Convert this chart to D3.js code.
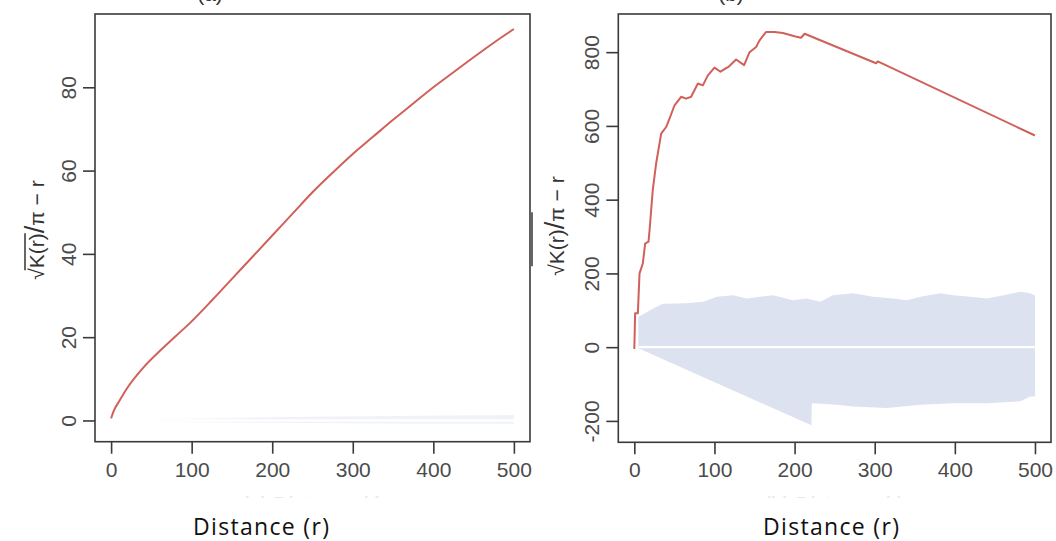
<!DOCTYPE html>
<html>
<head>
<meta charset="utf-8">
<script src="https://cdn.jsdelivr.net/npm/d3@7"></script>
<style>
    body { margin: 0; background: #fff; }
    svg { display: block; }
    .axisText { font-family: "Liberation Sans", Arial, sans-serif; font-size: 21px; fill: #4b4b4b; }
    .yTitle { font-family: "Liberation Sans", Arial, sans-serif; font-size: 21px; fill: #333; }
    .xTitle { font-family: "Open Sans", sans-serif; font-size: 23px; fill: #111; }
</style>
</head>
<body>
<div id="chart"></div>
<script>
// tick labels
const xTicks = [0, 100, 200, 300, 400, 500]
const leftYTicks = [0, 20, 40, 60, 80]
const rightYTicks = [-200, 0, 200, 400, 600, 800]

// (a) observed curve
const leftDistance = [0, 3, 10, 20, 40, 60, 80, 100, 125, 150, 175, 200, 225, 250, 275, 300, 325, 350, 375, 400, 425, 450, 475, 500]
const leftValue = [0.5, 2.2, 4.6, 7.8, 12.7, 16.6, 20.2, 23.8, 28.8, 34, 39.2, 44.4, 49.6, 54.8, 59.5, 64, 68.1, 72.2, 76.1, 80, 83.6, 87.2, 90.7, 94]

// (a) envelope
const leftBandDistance = [60, 150, 250, 350, 500]
const leftBandUpper = [0.3, 0.6, 0.9, 1.1, 1.3]
const leftBandLower = [-0.3, -0.5, -0.6, -0.7, -0.8]

// (b) observed curve
const rightDistance = [0, 1, 4.4, 6.5, 10.6, 13.5, 17.7, 19, 23, 27.2, 33.5, 39.7, 43.9, 50.2, 58.4, 64.7, 70.9, 79.3, 85.5, 91.8, 100, 107.6, 114, 118, 127, 137, 143.8, 152, 156.3, 164.5, 175, 185.4, 200, 208, 212.5, 301.7, 303.8, 500]
const rightValue = [-5, 92, 92, 200, 227, 281, 286, 317, 426, 498, 579, 597, 620, 656, 679, 674, 679, 715, 710, 737, 758, 747, 756, 761, 780, 765, 800, 814, 832, 855, 855, 852, 843, 839, 850, 770, 775, 574]

// (b) envelope
const rightUpperDistance = [5, 23.5, 36, 65, 86, 103, 123, 140, 157, 173, 198, 215, 232, 248, 273, 298, 323, 340, 357, 382, 398, 419, 440, 461, 482, 494, 500]
const rightUpper = [82, 105, 118, 119, 123, 137, 141, 132, 137, 141, 127, 132, 123, 141, 146, 137, 132, 127, 137, 146, 141, 137, 132, 141, 150, 146, 140]
const rightLowerDistance = [5, 221, 221.5, 253, 273, 315, 357, 398, 440, 482, 494, 500]
const rightLower = [-3, -212, -152, -156, -161, -165, -156, -152, -152, -147, -134, -134]

const svg = d3.select("#chart")
    .append("svg")
    .attr("width", 1056)
    .attr("height", 541)

const panels = [
    {
        label: "(a)", box: [95, 14, 530, 441.7], xDomain: [-20, 520], yDomain: [-5.1, 97.6], yTicks: leftYTicks,
        distance: leftDistance, value: leftValue, smooth: true,
        upperDistance: leftBandDistance, upper: leftBandUpper, lowerDistance: leftBandDistance, lower: leftBandLower,
        bandOpacity: 0.45, titleX: 44, titleY: 230, overY: -19, overExtra: 0,
        labelX: 210, xTitleX: 261, fadedX: 312
    },
    {
        label: "(b)", box: [618.3, 14, 1051, 442.3], xDomain: [-20, 520], yDomain: [-258, 903.5], yTicks: rightYTicks,
        distance: rightDistance, value: rightValue, smooth: false,
        upperDistance: rightUpperDistance, upper: rightUpper, lowerDistance: rightLowerDistance, lower: rightLower,
        bandOpacity: 1, titleX: 564, titleY: 226, overY: -32, overExtra: 17,
        labelX: 731, xTitleX: 831, fadedX: 834
    }
]

const drawPanel = (p) => {
    const [x0, y0, x1, y1] = p.box
    const x = d3.scaleLinear().domain(p.xDomain).range([x0, x1])
    const y = d3.scaleLinear().domain(p.yDomain).range([y1, y0])

    const g = svg.append("g").attr("class", "panel")

    // envelope: upper edge forward, lower edge back
    const bandPoints = p.upperDistance.map((r, i) => [r, p.upper[i]])
        .concat(p.lowerDistance.map((r, i) => [r, p.lower[i]]).reverse())

    g.append("path")
        .attr("d", d3.line().x(d => x(d[0])).y(d => y(d[1])).curve(d3.curveLinearClosed)(bandPoints))
        .attr("fill", "#dde2f0")
        .attr("opacity", p.bandOpacity)

    g.append("line")
        .attr("x1", x(d3.min(p.upperDistance)))
        .attr("x2", x(500))
        .attr("y1", y(0))
        .attr("y2", y(0))
        .attr("stroke", "#fff")
        .attr("stroke-width", 2.4)

    g.append("path")
        .datum(p.distance.map((r, i) => [r, p.value[i]]))
        .attr("d", d3.line().x(d => x(d[0])).y(d => y(d[1])).curve(p.smooth ? d3.curveMonotoneX : d3.curveLinear))
        .attr("fill", "none")
        .attr("stroke", "#d0605a")
        .attr("stroke-width", 2)
        .attr("stroke-linejoin", "round")

    g.append("rect")
        .attr("x", x0)
        .attr("y", y0)
        .attr("width", x1 - x0)
        .attr("height", y1 - y0)
        .attr("fill", "none")
        .attr("stroke", "#3a3a3a")
        .attr("stroke-width", 1.6)

    const bottomAxis = d3.axisBottom(x)
        .tickValues(xTicks)
        .tickSize(12)
        .tickPadding(8)
        .tickFormat(d => String(d))

    const bottom = g.append("g")
        .attr("transform", `translate(0,${y1})`)
        .call(bottomAxis)
    bottom.select(".domain").remove()

    const leftAxis = d3.axisLeft(y)
        .tickValues(p.yTicks)
        .tickSize(12)
        .tickFormat(d => String(d))

    const left = g.append("g")
        .attr("transform", `translate(${x0},0)`)
        .call(leftAxis)
    left.select(".domain").remove()
    left.selectAll(".tick text")
        .attr("x", null)
        .attr("dy", null)
        .attr("text-anchor", "middle")
        .attr("transform", "translate(-19,0) rotate(-90)")

    g.selectAll(".tick line").attr("stroke", "#3a3a3a").attr("stroke-width", 1.6)
    g.selectAll(".tick text").attr("class", "axisText").attr("fill", null)

    // y title with the radical bar drawn over K(r)
    const title = g.append("g")
        .attr("transform", `translate(${p.titleX},${p.titleY}) rotate(-90)`)
    const t = title.append("text")
        .attr("class", "yTitle")
        .attr("text-anchor", "middle")
    t.append("tspan").text("√K(r)")
    t.append("tspan").attr("font-size", 27).text("/")
    t.append("tspan").text("π − r")
    const node = t.node()
    const startK = node.getStartPositionOfChar(1).x
    const endK = node.getEndPositionOfChar(4).x
    title.append("line")
        .attr("x1", startK - 2)
        .attr("x2", endK + p.overExtra)
        .attr("y1", p.overY)
        .attr("y2", p.overY)
        .attr("stroke", "#333")
        .attr("stroke-width", 1.5)

    // panel letter, mostly cut off at the top edge
    g.append("text")
        .attr("class", "yTitle")
        .attr("x", p.labelX)
        .attr("y", 1)
        .attr("text-anchor", "middle")
        .text(p.label)

    // faded remains of the original axis title
    const clipId = "clip" + p.label.replace(/\W/g, "")
    svg.append("clipPath").attr("id", clipId)
        .append("rect").attr("x", 0).attr("y", 495).attr("width", 1056).attr("height", 3)
    g.append("text")
        .attr("class", "axisText")
        .attr("clip-path", `url(#${clipId})`)
        .attr("x", p.fadedX)
        .attr("y", 511)
        .attr("text-anchor", "middle")
        .style("fill", "#e6e6e6")
        .text(p.label + " Distance (r)")

    g.append("text")
        .attr("class", "xTitle")
        .attr("x", p.xTitleX)
        .attr("y", 535)
        .attr("text-anchor", "middle")
        .attr("textLength", 136)
        .text("Distance (r)")
}

panels.forEach(drawPanel)
</script>
</body>
</html>
